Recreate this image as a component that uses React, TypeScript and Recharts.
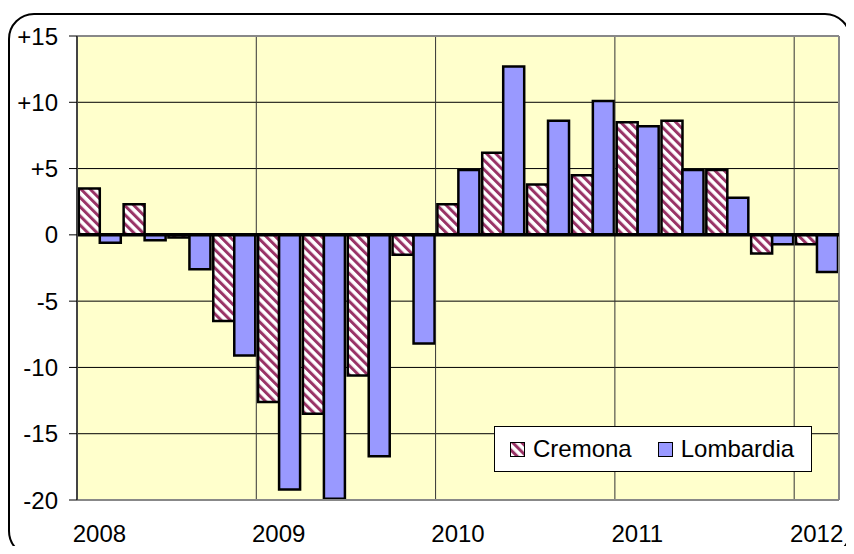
import React from 'react';
import { BarChart, Bar, XAxis, YAxis, CartesianGrid, ReferenceLine, Legend } from 'recharts';

// quarters from 2008 Q1 to 2012 Q1
const quarters = [
  '2008-1', '2008-2', '2008-3', '2008-4',
  '2009-1', '2009-2', '2009-3', '2009-4',
  '2010-1', '2010-2', '2010-3', '2010-4',
  '2011-1', '2011-2', '2011-3', '2011-4',
  '2012-1',
];
const cremona = [3.5, 2.3, -0.2, -6.5, -12.6, -13.5, -10.6, -1.5, 2.3, 6.2, 3.8, 4.5, 8.5, 8.6, 4.9, -1.4, -0.7];
const lombardia = [-0.6, -0.4, -2.6, -9.1, -19.2, -19.9, -16.7, -8.2, 4.9, 12.7, 8.6, 10.1, 8.2, 4.9, 2.8, -0.7, -2.8];
const yTicks = [-20, -15, -10, -5, 0, 5, 10, 15];
const yearStarts = ['2009-1', '2010-1', '2011-1', '2012-1'];

const data = quarters.map((q, i) => ({ q, Cremona: cremona[i], Lombardia: lombardia[i] }));

const FONT = '"Liberation Sans", Arial, sans-serif';

const fmtY = (v: number) => (v > 0 ? `+${v}` : `${v}`);
const fmtX = (q: string) => (q.endsWith('-1') ? q.slice(0, 4) : '');

const LegendBox = ({ payload }: any) => (
  <div
    style={{
      display: 'flex',
      alignItems: 'center',
      height: 46,
      boxSizing: 'border-box',
      border: '1px solid #000',
      background: '#fff',
      paddingLeft: 15,
      fontFamily: FONT,
      fontSize: 24,
      color: '#000',
    }}
  >
    {(payload || []).map((p: any, i: number) => (
      <div key={p.value} style={{ display: 'flex', alignItems: 'center', marginLeft: i ? 26 : 0 }}>
        <svg width={15} height={15} style={{ marginRight: 8 }}>
          <rect x={0.5} y={0.5} width={14} height={14} fill={p.payload?.fill || p.color} stroke="#000" strokeWidth={1} />
        </svg>
        <span>{p.value}</span>
      </div>
    ))}
  </div>
);

export default function App() {
  return (
    <div style={{ position: 'relative', width: 854, height: 554, margin: -8, overflow: 'hidden', background: '#fff' }}>
      {/* cut off title above the frame */}
      <span
        style={{
          position: 'absolute',
          left: 130,
          top: -22,
          fontFamily: FONT,
          fontStyle: 'italic',
          fontSize: 24,
        }}
      >
        y
      </span>
      <div
        style={{
          position: 'absolute',
          left: 8,
          top: 13,
          width: 843,
          height: 544,
          boxSizing: 'border-box',
          border: '2px solid #000',
          borderRadius: 26,
          boxShadow: '3px 3px 0 #000',
        }}
      />
      <div style={{ position: 'absolute', left: 0, top: 0 }}>
        <BarChart
          width={854}
          height={554}
          data={data}
          margin={{ top: 36, right: 15, left: 0, bottom: 0 }}
          barGap={0}
          barCategoryGap="4%"
        >
          <defs>
            <pattern id="crStripes" patternUnits="userSpaceOnUse" width={6.5} height={6.5} patternTransform="rotate(-45)">
              <rect width={6.5} height={6.5} fill="#fff" />
              <rect width={3} height={6.5} fill="#993366" />
            </pattern>
          </defs>
          <CartesianGrid fill="#FFFFCC" stroke="#000" strokeWidth={1} vertical={false} />
          <XAxis
            dataKey="q"
            interval={0}
            height={54}
            axisLine={false}
            tickLine={false}
            tickSize={8}
            tickMargin={17}
            tickFormatter={fmtX}
            tick={{ fill: '#000', fontSize: 24, fontFamily: FONT }}
          />
          <YAxis
            width={77}
            domain={[-20, 15]}
            ticks={yTicks}
            interval={0}
            tickFormatter={fmtY}
            axisLine={{ stroke: '#444', strokeWidth: 2 }}
            tickLine={{ stroke: '#000' }}
            tickSize={8}
            tickMargin={11}
            tick={{ fill: '#000', fontSize: 24, fontFamily: FONT }}
          />
          {yearStarts.map((y) => (
            <ReferenceLine key={y} x={y} position="start" stroke="#333" strokeWidth={1} />
          ))}
          {/* plot frame: top, bottom, right */}
          <ReferenceLine y={15} stroke="#888" strokeWidth={2} />
          <ReferenceLine y={-20} stroke="#888" strokeWidth={2} />
          <ReferenceLine x={quarters[quarters.length - 1]} position="end" stroke="#888" strokeWidth={2} />
          <Bar dataKey="Cremona" fill="url(#crStripes)" stroke="#000" strokeWidth={2.5} isAnimationActive={false} />
          <Bar dataKey="Lombardia" fill="#9999FF" stroke="#000" strokeWidth={2.5} isAnimationActive={false} />
          <ReferenceLine y={0} stroke="#000" strokeWidth={3.5} />
          <Legend
            verticalAlign="middle"
            align="center"
            content={<LegendBox />}
            wrapperStyle={{ position: 'absolute', left: 494, top: 426, width: 318, height: 46 }}
          />
        </BarChart>
      </div>
    </div>
  );
}
